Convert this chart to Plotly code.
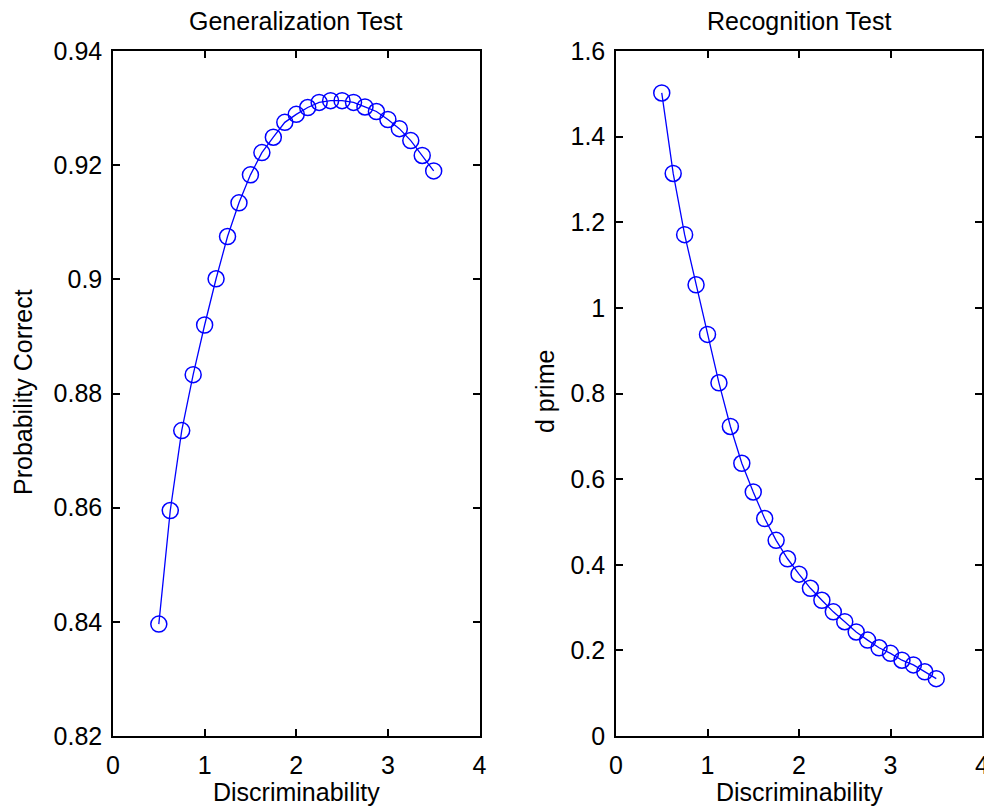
import plotly.graph_objects as go

# ---- data ----
discriminability = [0.5, 0.625, 0.75, 0.875, 1.0, 1.125, 1.25, 1.375, 1.5, 1.625,
                     1.75, 1.875, 2.0, 2.125, 2.25, 2.375, 2.5, 2.625, 2.75, 2.875,
                     3.0, 3.125, 3.25, 3.375, 3.5]
prob_correct = [0.8396, 0.8595, 0.8735, 0.8833, 0.8920, 0.9001, 0.9075, 0.9134, 0.9183, 0.9222,
                0.9249, 0.9275, 0.9289, 0.9301, 0.9310, 0.9313, 0.9313, 0.9310, 0.9302, 0.9294,
                0.9280, 0.9264, 0.9243, 0.9217, 0.9190]
d_prime = [1.502, 1.314, 1.171, 1.054, 0.938, 0.825, 0.723, 0.637, 0.570, 0.508,
           0.457, 0.414, 0.378, 0.345, 0.317, 0.290, 0.267, 0.243, 0.224, 0.206,
           0.193, 0.177, 0.166, 0.150, 0.134]

x_ticks = [0, 1, 2, 3, 4]
left_y_ticks = [0.82, 0.84, 0.86, 0.88, 0.90, 0.92, 0.94]
left_y_labels = ["0.82", "0.84", "0.86", "0.88", "0.9", "0.92", "0.94"]
right_y_ticks = [0, 0.2, 0.4, 0.6, 0.8, 1.0, 1.2, 1.4, 1.6]
right_y_labels = ["0", "0.2", "0.4", "0.6", "0.8", "1", "1.2", "1.4", "1.6"]

W, H = 984, 808
FONT = "Liberation Sans, Arial, sans-serif"
FS = 25
BLUE = "#0000FF"

fig = go.Figure()
trace_style = dict(mode="lines+markers",
                   line=dict(color=BLUE, width=1.3),
                   marker=dict(symbol="circle-open", size=16, color=BLUE,
                               line=dict(color=BLUE, width=1.5)),
                   showlegend=False, hoverinfo="x+y")
fig.add_trace(go.Scatter(x=discriminability, y=prob_correct, xaxis="x", yaxis="y", **trace_style))
fig.add_trace(go.Scatter(x=discriminability, y=d_prime, xaxis="x2", yaxis="y2", **trace_style))

ydom = [1 - 736 / H, 1 - 51 / H]
axis_common = dict(showline=True, linecolor="black", linewidth=1.5, mirror="allticks",
                   ticks="inside", ticklen=7, tickwidth=1.5, tickcolor="black",
                   showgrid=False, zeroline=False, automargin=False,
                   tickfont=dict(family=FONT, size=FS, color="black"))

fig.update_layout(
    width=W, height=H,
    margin=dict(l=0, r=0, t=0, b=0),
    paper_bgcolor="white", plot_bgcolor="white",
    template="none",
    xaxis=dict(domain=[113 / W, 479.5 / W], range=[0, 4], tickvals=x_ticks,
               anchor="y", ticklabelstandoff=6, **axis_common),
    yaxis=dict(domain=ydom, range=[0.82, 0.94], tickvals=left_y_ticks,
               ticktext=left_y_labels, anchor="x", ticklabelstandoff=4, **axis_common),
    xaxis2=dict(domain=[616 / W, 982 / W], range=[0, 4], tickvals=x_ticks,
                anchor="y2", ticklabeloverflow="allow", ticklabelstandoff=6, **axis_common),
    yaxis2=dict(domain=ydom, range=[0, 1.6], tickvals=right_y_ticks,
                ticktext=right_y_labels, anchor="x2", ticklabelstandoff=4, **axis_common),
)

ann_font = dict(family=FONT, size=FS, color="black")
annotations = [
    dict(text="Generalization Test", x=(113 + 479.5) / 2 / W, y=1 - 21 / H),
    dict(text="Recognition Test", x=(616 + 982) / 2 / W, y=1 - 21 / H),
    dict(text="Discriminability", x=(113 + 479.5) / 2 / W, y=1 - 792 / H),
    dict(text="Discriminability", x=(616 + 982) / 2 / W, y=1 - 792 / H),
    dict(text="Probability Correct", x=23 / W, y=1 - 392 / H, textangle=-90),
    dict(text="d prime", x=545 / W, y=1 - 392 / H, textangle=-90),
]
for a in annotations:
    fig.add_annotation(xref="paper", yref="paper", showarrow=False,
                       xanchor="center", yanchor="middle", font=ann_font, **a)

fig.write_html("out.html",
               config={"displayModeBar": False},
               post_script="document.body.style.margin='0';document.body.style.overflow='hidden';")
